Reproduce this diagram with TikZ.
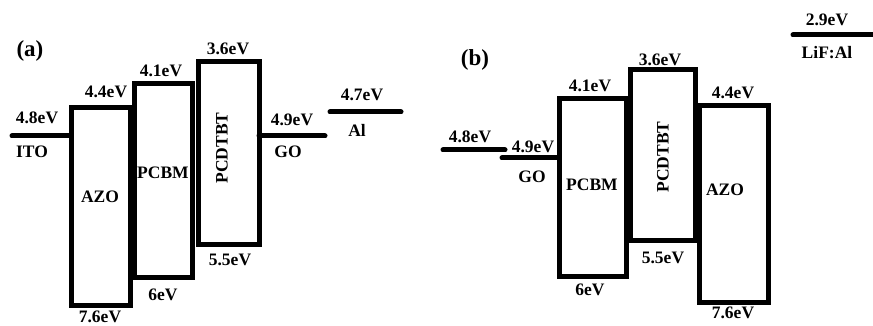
\documentclass[tikz,border=0pt]{standalone}
\usepackage{fontspec}
\setmainfont{Liberation Serif}
\begin{document}
\begin{tikzpicture}[x=1pt, y=-1pt, font=\bfseries\fontsize{17.5}{20}\selectfont, line width=5pt, line join=miter]
	\tikzset{level/.style={line cap=round}, panel/.style={font=\bfseries\fontsize{23}{26}\selectfont}}
	\useasboundingbox (0,0) rectangle (873,326);
	
	% (a)
	\coordinate (ITOl) at (12,136);
	\coordinate (ITOr) at (71,136);
	\coordinate (GOaL) at (259,136);
	\coordinate (GOaR) at (325,136);
	\coordinate (All) at (330,112);
	\coordinate (Alr) at (401,112);
	
	\draw (71,108) rectangle (130,305);
	\draw (134,84) rectangle (192,277);
	\draw (198,62) rectangle (259,244);
	\draw[level] (ITOl)--(ITOr);
	\draw[level] (GOaL)--(GOaR);
	\draw[level] (All)--(Alr);
	
	\node[panel] (pa) at (30,51) {(a)};
	\node (ito1) at (37,118) {4.8eV};
	\node (ito2) at (32,152) {ITO};
	\node (azo1) at (106,92) {4.4eV};
	\node (azo2) at (100,197) {AZO};
	\node (azo3) at (100,317) {7.6eV};
	\node (pcbm1) at (161,71) {4.1eV};
	\node (pcbm2) at (163,173) {PCBM};
	\node (pcbm3) at (163,295) {6eV};
	\node (pcd1) at (228,49) {3.6eV};
	\node[rotate=90] (pcd2) at (222,148) {PCDTBT};
	\node (pcd3) at (230,260) {5.5eV};
	\node (go1) at (292,120) {4.9eV};
	\node (go2) at (288,152) {GO};
	\node (al1) at (362,95) {4.7eV};
	\node (al2) at (357,130) {Al};
	
	% (b)
	\coordinate (ITObl) at (443,150);
	\coordinate (ITObr) at (505,150);
	\coordinate (GObl) at (502,158);
	\coordinate (GObr) at (559,158);
	\coordinate (LiFl) at (793,35);
	\coordinate (LiFr) at (880,35);
	
	\draw (559,99) rectangle (626,276);
	\draw (630,70) rectangle (695,240);
	\draw (699,106) rectangle (768,302);
	\draw[level] (ITObl)--(ITObr);
	\draw[level] (GObl)--(GObr);
	\draw[level] (LiFl)--(LiFr);
	
	\node[panel] (pb) at (475,60) {(b)};
	\node (bito) at (470,137) {4.8eV};
	\node (bgo1) at (533,147) {4.9eV};
	\node (bgo2) at (532,177) {GO};
	\node (bpcbm1) at (590,86) {4.1eV};
	\node (bpcbm2) at (592,185) {PCBM};
	\node (bpcbm3) at (590,290) {6eV};
	\node (bpcd1) at (660,60) {3.6eV};
	\node[rotate=90] (bpcd2) at (663,157) {PCDTBT};
	\node (bpcd3) at (663,258) {5.5eV};
	\node (bazo1) at (733,93) {4.4eV};
	\node (bazo2) at (725,190) {AZO};
	\node (bazo3) at (733,313) {7.6eV};
	\node (lif1) at (827,20) {2.9eV};
	\node (lif2) at (827,53) {LiF:Al};
\end{tikzpicture}
\end{document}
